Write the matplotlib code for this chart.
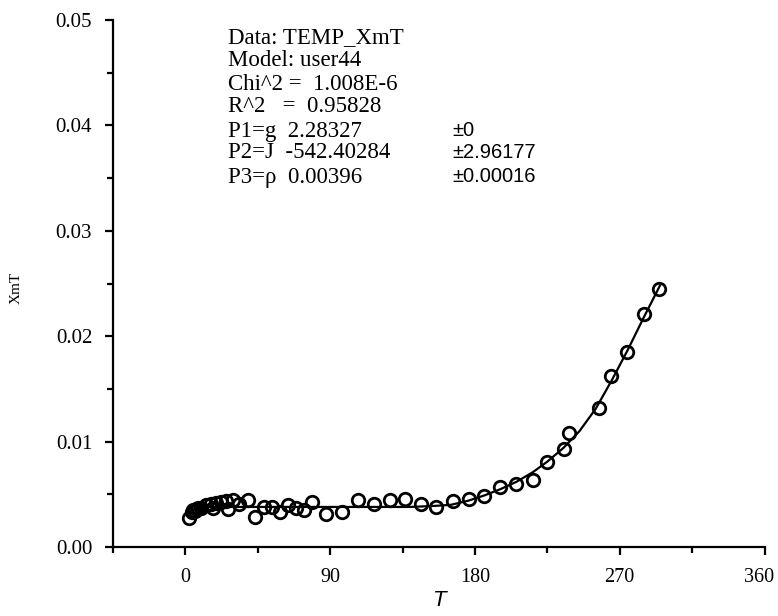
import matplotlib
matplotlib.use("Agg")
import matplotlib.pyplot as plt
from matplotlib.ticker import MultipleLocator
from matplotlib.transforms import ScaledTranslation

# datos medidos (T, XmT)
temp = [2, 4, 5, 6, 7, 8, 10, 13, 16, 17.3, 19, 22, 25, 26.6, 29.5, 33.6, 38.8, 43.3,
        48.7, 53.9, 58.7, 63.8, 68.6, 73.6, 78.7, 87.6, 97.6, 107.3, 117, 127.4, 136.3,
        146.6, 155.9, 166.2, 176, 185.9, 195.6, 205.6, 215.9, 224.8, 235.1, 238.7,
        257.3, 264.6, 274.5, 284.8, 294.5]
xmt = [0.00275, 0.0033, 0.0035, 0.0034, 0.0036, 0.0037, 0.0037, 0.0040, 0.0041, 0.0037,
       0.0042, 0.0043, 0.0044, 0.0036, 0.0045, 0.0041, 0.0045, 0.0028,
       0.0038, 0.0038, 0.0033, 0.0040, 0.0037, 0.0035, 0.0043, 0.0031, 0.0033, 0.0045,
       0.0041, 0.0045, 0.00455, 0.0041, 0.0038, 0.0044, 0.0046, 0.0048, 0.0057, 0.0060,
       0.0064, 0.0081, 0.0093, 0.0108, 0.0132, 0.0162, 0.0185, 0.0221, 0.0245]

# curva del ajuste
fit_t = [2, 4, 7, 10, 15, 20, 30, 50, 80, 110, 140, 155, 165, 176, 186, 196, 206, 216,
         225, 235, 245, 255, 265, 275, 285, 295]
fit_v = [0.0033, 0.0035, 0.0036, 0.0037, 0.0038, 0.0038, 0.0038, 0.0038, 0.0038, 0.0038,
         0.0038, 0.0039, 0.0040, 0.0044, 0.0049, 0.0055, 0.0062, 0.0071, 0.0081, 0.0094,
         0.0110, 0.0131, 0.0158, 0.0187, 0.0218, 0.0248]

x_ticks = [0, 90, 180, 270, 360]
y_ticks = [0.00, 0.01, 0.02, 0.03, 0.04, 0.05]

info_lines = ["Data: TEMP_XmT", "Model: user44", "Chi^2 =  1.008E-6", "R^2   =  0.95828",
              "P1=g  2.28327", "P2=J  -542.40284", "P3=\u03c1  0.00396"]
errores = ["\u00b10", "\u00b12.96177", "\u00b10.00016"]

W, H = 778, 616
fig = plt.figure(figsize=(W / 100, H / 100), dpi=100)
ax = fig.add_axes([113 / W, 1 - 547 / H, (764.5 - 113) / W, (547 - 20) / H])

ax.plot(fit_t, fit_v, color="black", linewidth=1.6, zorder=2)
ax.plot(temp, xmt, linestyle="none", marker="o", markersize=9, markerfacecolor="none",
        markeredgecolor="black", markeredgewidth=2.0, zorder=3)

ax.set_xlim(-45, 360)
ax.set_ylim(0, 0.05)
ax.set_xticks(x_ticks)
ax.set_yticks(y_ticks)
ax.xaxis.set_minor_locator(MultipleLocator(45))
ax.yaxis.set_minor_locator(MultipleLocator(0.005))
ax.set_xticklabels([str(t) for t in x_ticks], fontfamily="Liberation Serif", fontsize=14.5)
ax.set_yticklabels(["%.2f" % v for v in y_ticks], fontfamily="Liberation Serif", fontsize=15)

for s in ["top", "right"]:
    ax.spines[s].set_visible(False)
for s in ["left", "bottom"]:
    ax.spines[s].set_linewidth(1.6)
ax.tick_params(which="major", direction="out", length=6, width=1.6, pad=9)
ax.tick_params(which="minor", direction="out", length=4, width=1.6)

# el "360" queda justo en el borde, se corre un poco a la izquierda
# (despues de tick_params, que vuelve a poner la transformacion)
ultimo = ax.get_xticklabels()[-1]
ultimo.set_transform(ultimo.get_transform() + ScaledTranslation(-0.05, 0, fig.dpi_scale_trans))

# etiquetas de ejes
fig.text(16 / W, 1 - 288 / H, "XmT", rotation=90, ha="center", va="center",
         fontfamily="Liberation Serif", fontsize=11)
fig.text(440 / W, 1 - 600 / H, "T", ha="center", va="center", fontfamily="Liberation Sans",
         style="italic", fontsize=16)

# caja de resultados del ajuste
y_lineas = [38, 61, 84, 107, 131, 153, 177]
for txt, yp in zip(info_lines, y_lineas):
    fig.text(228 / W, 1 - yp / H, txt, ha="left", va="center",
             fontfamily="Liberation Serif", fontsize=16.5)
for txt, yp in zip(errores, y_lineas[4:]):
    fig.text(452 / W, 1 - yp / H, txt, ha="left", va="center",
             fontfamily="Liberation Sans", fontsize=14.5)

fig.savefig("out.png", dpi=100)
